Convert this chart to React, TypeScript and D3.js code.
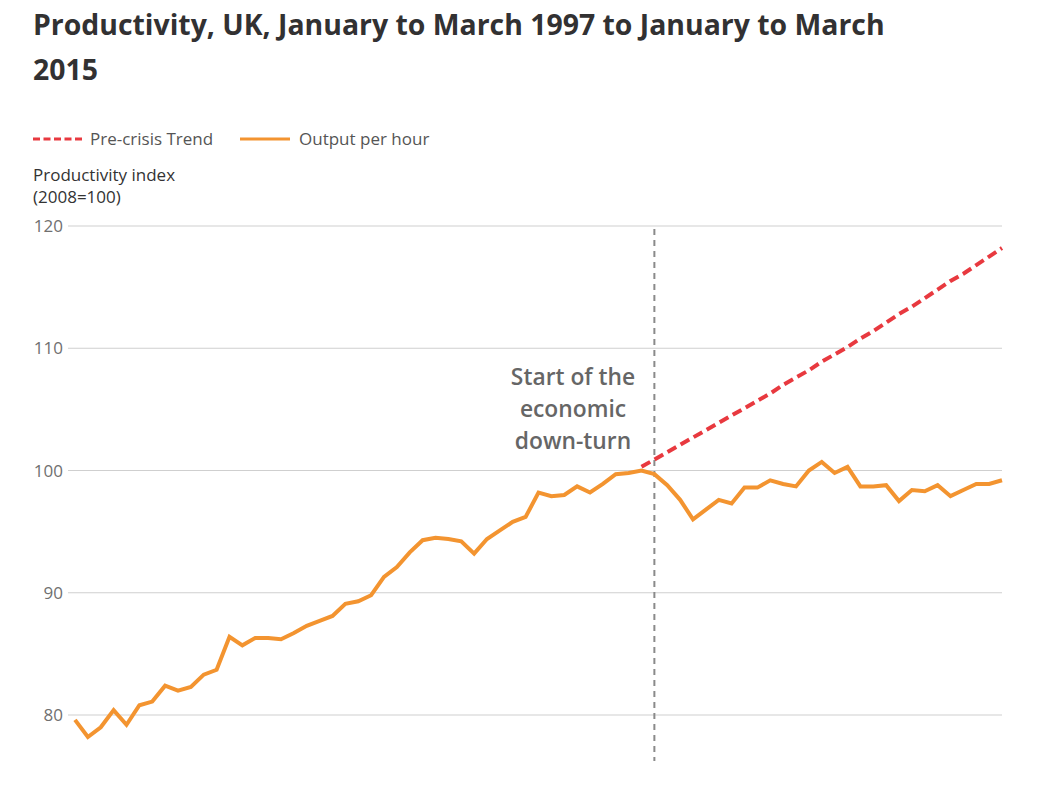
import React from "react";
import * as d3 from "d3";

const startYear = 1997;
const outputPerHour = [
  79.6, 78.2, 79.0, 80.4, 79.2, 80.8, 81.1, 82.4, 82.0, 82.3,
  83.3, 83.7, 86.4, 85.7, 86.3, 86.3, 86.2, 86.7, 87.3, 87.7,
  88.1, 89.1, 89.3, 89.8, 91.3, 92.1, 93.3, 94.3, 94.5, 94.4,
  94.2, 93.2, 94.4, 95.1, 95.8, 96.2, 98.2, 97.9, 98.0, 98.7,
  98.2, 98.9, 99.7, 99.8, 100.0, 99.7, 98.8, 97.6, 96.0, 96.8,
  97.6, 97.3, 98.6, 98.6, 99.2, 98.9, 98.7, 100.0, 100.7, 99.8,
  100.3, 98.7, 98.7, 98.8, 97.5, 98.4, 98.3, 98.8, 97.9, 98.4,
  98.9, 98.9, 99.2,
];
const trendStartIndex = 44;
const preCrisisTrend = [
  100.3, 100.9, 101.5, 102.1, 102.7, 103.3, 103.9, 104.5, 105.1, 105.7,
  106.3, 107.0, 107.6, 108.2, 108.9, 109.5, 110.1, 110.8, 111.4, 112.1,
  112.8, 113.4, 114.1, 114.8, 115.5, 116.1, 116.8, 117.5, 118.2,
];
const crisisIndex = 45;
const yTicks = [80, 90, 100, 110, 120];
const annotationLines = ["Start of the", "economic", "down-turn"];

const FONT = "'Open Sans', sans-serif";

export default function App() {
  const x = d3.scaleLinear().domain([0, outputPerHour.length - 1]).range([75, 1002]);
  const y = d3.scaleLinear().domain([80, 120]).range([715, 226]);

  const line = d3
    .line<number>()
    .x((_, i) => x(i))
    .y((d) => y(d));
  const trendLine = d3
    .line<number>()
    .x((_, i) => x(i + trendStartIndex))
    .y((d) => y(d));

  return (
    <svg
      width={1054}
      height={786}
      style={{ display: "block", margin: "-8px" }}
      fontFamily={FONT}
    >
      <rect x={0} y={0} width={1054} height={786} fill="#fff" />
      <text x={33} y={35} fontSize={28.4} fontWeight={700} fill="#323132">
        Productivity, UK, January to March {startYear} to January to March
      </text>
      <text x={33} y={80} fontSize={28.4} fontWeight={700} fill="#323132">
        2015
      </text>

      {/* legend */}
      <line x1={33} x2={82} y1={139} y2={139} stroke="#e8393f" strokeWidth={3} strokeDasharray="7,3.5" />
      <text x={90} y={145} fontSize={17} fill="#555">Pre-crisis Trend</text>
      <line x1={240} x2={290} y1={139} y2={139} stroke="#f39430" strokeWidth={3} />
      <text x={299} y={145} fontSize={17} fill="#555">Output per hour</text>

      <text x={33} y={181} fontSize={17} fill="#333">Productivity index</text>
      <text x={33} y={203} fontSize={17} fill="#333">(2008=100)</text>

      {yTicks.map((t) => (
        <g key={t}>
          <line x1={68} x2={1002} y1={y(t)} y2={y(t)} stroke="#cfcfcf" strokeWidth={1} />
          <text x={63} y={y(t) + 6} fontSize={17} fill="#707070" textAnchor="end">
            {t}
          </text>
        </g>
      ))}

      <line
        x1={x(crisisIndex)}
        x2={x(crisisIndex)}
        y1={229}
        y2={761}
        stroke="#8a8a8a"
        strokeWidth={2}
        strokeDasharray="6,5"
      />

      {annotationLines.map((s, i) => (
        <text
          key={s}
          x={573}
          y={385 + i * 32}
          fontSize={22.8}
          fontWeight={600}
          fill="#666"
          textAnchor="middle"
        >
          {s}
        </text>
      ))}

      <path d={trendLine(preCrisisTrend) || ""} fill="none" stroke="#e8393f" strokeWidth={4} strokeDasharray="10,5" />
      <path d={line(outputPerHour) || ""} fill="none" stroke="#f39430" strokeWidth={4} strokeLinejoin="miter" />
    </svg>
  );
}
